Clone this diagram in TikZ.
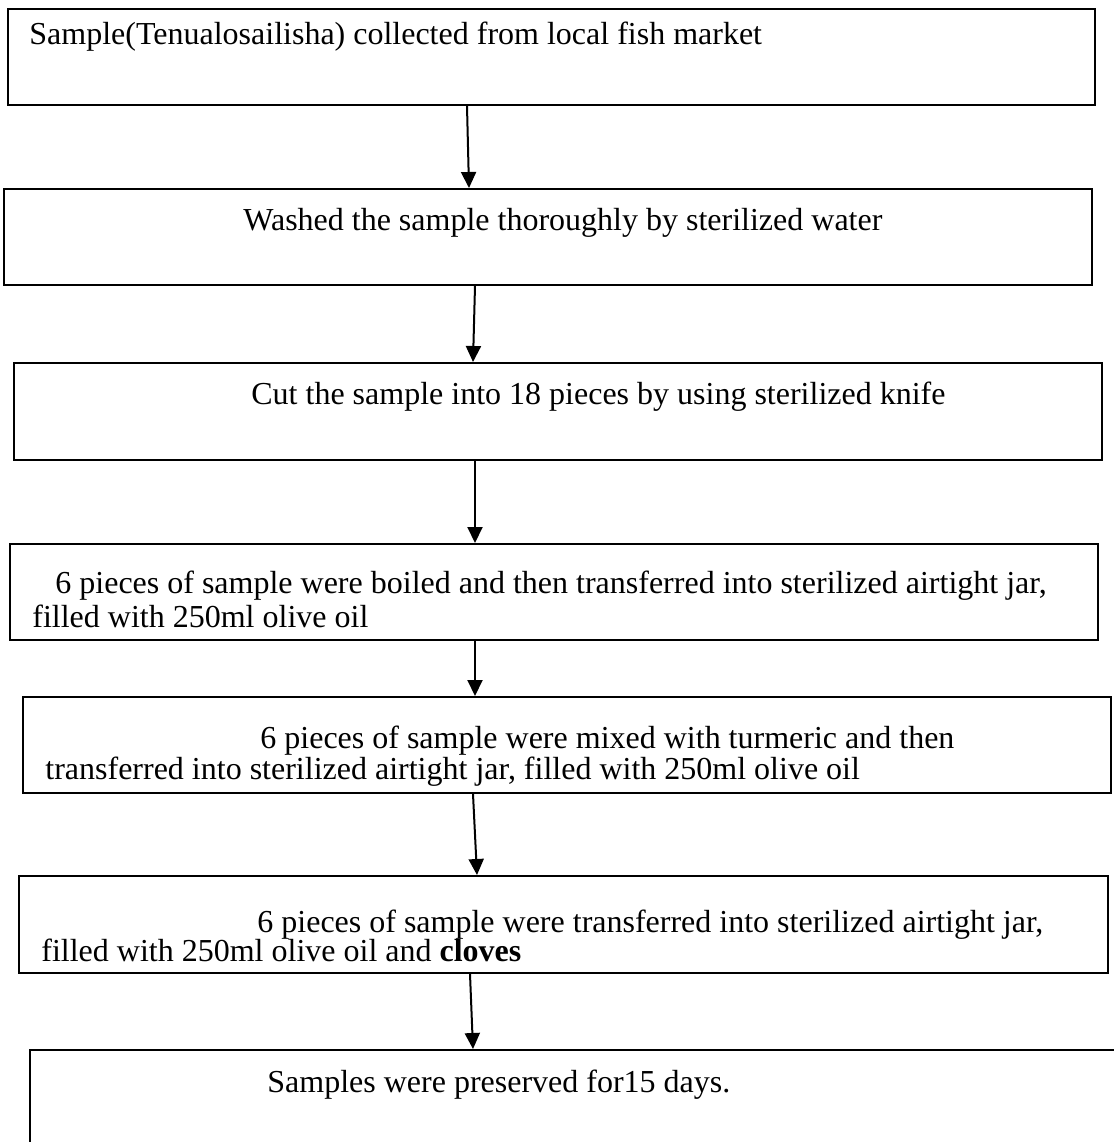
\documentclass[tikz,border=0pt]{standalone}
\usepackage{fontspec}
\setmainfont{Liberation Serif}
\usetikzlibrary{arrows.meta}

\tikzset{
  stepbox/.style={draw=black, line width=1pt, inner sep=0pt},
  steptext/.style={anchor=base west, inner sep=0pt, font=\fontsize{16}{19}\selectfont},
  flow/.style={draw=black, line width=1pt, -{Triangle[length=8pt, width=7.5pt]}}
}

\begin{document}
\begin{tikzpicture}[x=0.5pt, y=-0.5pt]
\useasboundingbox (0,0) rectangle (1114,1142);
\clip (0,0) rectangle (1114,1142);

% boxes
\node[stepbox, minimum width=543.5pt, minimum height=48pt] (s1) at (551.5,57) {};
\node[stepbox, minimum width=544pt, minimum height=48pt] (s2) at (548,237) {};
\node[stepbox, minimum width=544pt, minimum height=48.5pt] (s3) at (558,411.5) {};
\node[stepbox, minimum width=544pt, minimum height=48pt] (s4) at (554,592) {};
\node[stepbox, minimum width=544pt, minimum height=48pt] (s5) at (567,745) {};
\node[stepbox, minimum width=544.5pt, minimum height=48.5pt] (s6) at (563.5,924.5) {};
\node[stepbox, minimum width=555pt, minimum height=60pt] (s7) at (585,1110) {};

% texts
\node[steptext] (t1) at (29,44) {Sample(Tenualosailisha) collected from local fish market};
\node[steptext] (t2) at (243,230) {Washed the sample thoroughly by sterilized water};
\node[steptext] (t3) at (251,404) {Cut the sample into 18 pieces by using sterilized knife};
\node[steptext] (t4a) at (55,593) {6 pieces of sample were boiled and then transferred into sterilized airtight jar,};
\node[steptext] (t4b) at (32,627) {filled with 250ml olive oil};
\node[steptext] (t5a) at (260,748) {6 pieces of sample were mixed with turmeric and then};
\node[steptext] (t5b) at (45,779) {transferred into sterilized airtight jar, filled with 250ml olive oil};
\node[steptext] (t6a) at (257,932) {6 pieces of sample were transferred into sterilized airtight jar,};
\node[steptext] (t6b) at (41,961) {filled with 250ml olive oil and \textbf{cloves}};
\node[steptext] (t7) at (267,1092) {Samples were preserved for15 days.};

% arrows
\draw[flow] (467,0 |- s1.south) -- (469,0 |- s2.north);
\draw[flow] (475,0 |- s2.south) -- (473,0 |- s3.north);
\draw[flow] (475,0 |- s3.south) -- (475,0 |- s4.north);
\draw[flow] (475,0 |- s4.south) -- (475,0 |- s5.north);
\draw[flow] (473,0 |- s5.south) -- (477,0 |- s6.north);
\draw[flow] (470,0 |- s6.south) -- (473,0 |- s7.north);
\end{tikzpicture}
\end{document}
